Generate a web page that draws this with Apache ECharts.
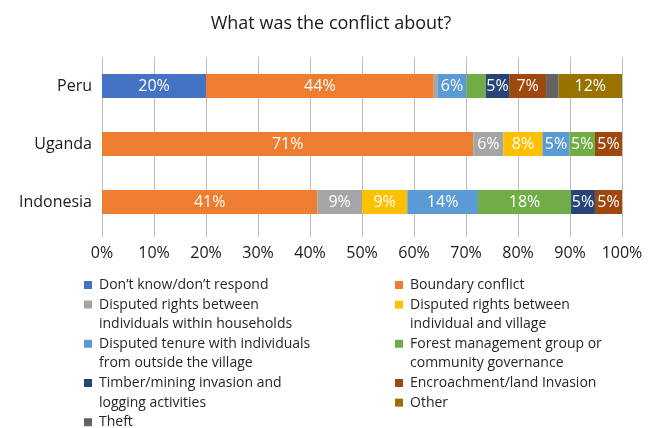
<!DOCTYPE html>
<html>
<head>
<meta charset="utf-8">
<script src="https://cdn.jsdelivr.net/npm/echarts@6/dist/echarts.min.js"></script>
<style>html,body{margin:0;padding:0;background:#fff}#c{width:656px;height:428px}</style>
</head>
<body>
<div id="c"></div>
<script>
var categories = ['Peru', 'Uganda', 'Indonesia'];
var xTickLabels = ['0%', '10%', '20%', '30%', '40%', '50%', '60%', '70%', '80%', '90%', '100%'];
var seriesNames = [
  'Don\u2019t know/don\u2019t respond',
  'Boundary conflict',
  'Disputed rights between\nindividuals within households',
  'Disputed rights between\nindividual and village',
  'Disputed tenure with individuals\nfrom outside the village',
  'Forest management group or\ncommunity governance',
  'Timber/mining invasion and\nlogging activities',
  'Encroachment/land Invasion',
  'Theft',
  'Other'
];
var dontKnow      = [20.0, 0, 0];
var boundary      = [43.8, 71.4, 41.4];
var withinHH      = [0.7, 5.8, 8.6];
var indivVillage  = [0, 7.5, 8.7];
var outside       = [5.6, 5.2, 13.6];
var forest        = [3.7, 4.9, 17.9];
var timber        = [4.5, 0, 4.6];
var encroachment  = [7.1, 5.2, 5.2];
var theft         = [2.4, 0, 0];
var other         = [12.2, 0, 0];

var seriesValues = [dontKnow, boundary, withinHH, indivVillage, outside, forest, timber, encroachment, theft, other];
var colors = ['#4472C4', '#ED7D31', '#A5A5A5', '#FFC000', '#5B9BD5', '#70AD47', '#264478', '#9E480E', '#636363', '#997300'];

var FONT = '"Open Sans", "Noto Sans", sans-serif';
var LH = 19.6;

var series = seriesNames.map(function (name, i) {
  return {
    name: name,
    type: 'bar',
    stack: 'total',
    barWidth: 24,
    itemStyle: { color: colors[i] },
    label: {
      show: true,
      position: 'inside',
      color: '#fff',
      fontFamily: FONT,
      fontSize: 16,
      formatter: function (p) { return p.value >= 4.5 ? Math.round(p.value) + '%' : ''; }
    },
    emphasis: { disabled: true },
    data: seriesValues[i]
  };
});

// legend layout: [series index, left, first-line line index]
var legendSlots = [
  [0, 84, 0], [2, 84, 1], [4, 84, 3], [6, 84, 5], [8, 84, 7],
  [1, 395, 0], [3, 395, 1], [5, 395, 3], [7, 395, 5], [9, 395, 6]
];
var legends = legendSlots.map(function (s) {
  var name = seriesNames[s[0]];
  var twoLine = name.indexOf('\n') >= 0;
  var yc = 285 + LH * s[2];
  return {
    data: [{ name: name, icon: 'rect' }],
    left: s[1],
    top: twoLine ? yc - LH * 1.5 : yc - LH * 0.5,
    padding: 0,
    itemWidth: 8,
    itemHeight: 8,
    selectedMode: false,
    formatter: twoLine ? function (n) { return '\n' + n; } : '{name}',
    textStyle: {
      fontFamily: FONT,
      fontSize: 14,
      color: '#262626',
      lineHeight: LH,
      padding: [0, 0, 0, 2]
    }
  };
});

var chart = echarts.init(document.getElementById('c'));
chart.setOption({
  animation: false,
  title: {
    text: 'What was the conflict about?',
    left: 331,
    top: 15,
    textAlign: 'center',
    padding: 0,
    textStyle: { fontFamily: FONT, fontSize: 18, fontWeight: 'normal', color: '#1a1a1a' }
  },
  legend: legends,
  grid: { left: 102, right: 34, top: 57, height: 174, containLabel: false },
  xAxis: {
    type: 'value',
    min: 0,
    max: 100,
    interval: 10,
    axisLine: { show: false },
    axisTick: { show: true, length: 6, lineStyle: { color: '#bfbfbf', width: 1 } },
    splitLine: { show: true, lineStyle: { color: '#bfbfbf', width: 1 } },
    axisLabel: {
      margin: 14,
      fontFamily: FONT,
      fontSize: 16,
      color: '#1a1a1a',
      formatter: function (v) { return xTickLabels[Math.round(v / 10)]; }
    }
  },
  yAxis: {
    type: 'category',
    data: categories,
    inverse: true,
    axisLine: { show: false },
    axisTick: { show: false },
    axisLabel: { margin: 10, fontFamily: FONT, fontSize: 16, color: '#1a1a1a' }
  },
  series: series
});
</script>
</body>
</html>
